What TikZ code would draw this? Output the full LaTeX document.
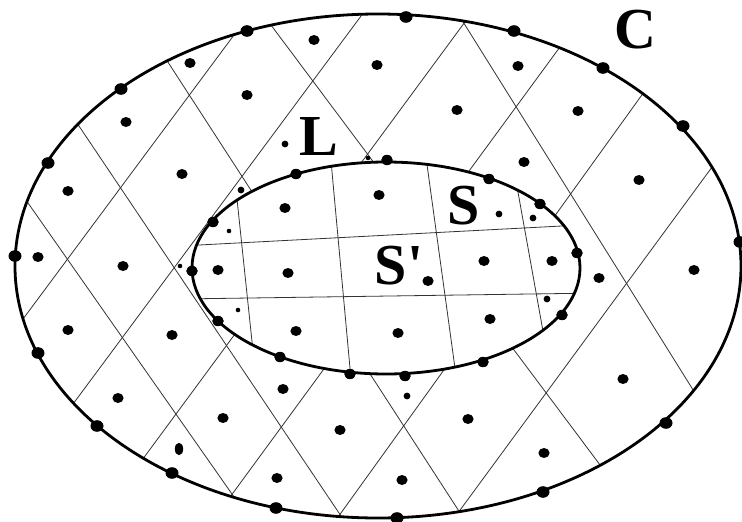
\documentclass[tikz,border=0pt]{standalone}
\usepackage{fontspec}
\setmainfont{Liberation Serif}[Ligatures=TeXOff]
\begin{document}
\begin{tikzpicture}[x=1pt, y=-1pt,
    rim/.style={line width=2.8pt},
    cell/.style={line width=0.8pt, black!80},
    every node/.style={font=\fontsize{58}{58}\selectfont\bfseries, inner sep=0pt, anchor=base}]
  \path[use as bounding box, fill=white] (0,0) rectangle (742,522);
  \coordinate (outer) at (378,266);
  \coordinate (inner) at (386,268);

  % diamond cells of L
  \begin{scope}
    \clip (outer) ellipse [x radius=363pt, y radius=252pt];
    \draw[cell] (0,163) -- (260,534);
    \draw[cell] (40,68) -- (380,574);
    \draw[cell] (140,19) -- (490,559);
    \draw[cell] (250,-3) -- (630,505);
    \draw[cell] (440,-15) -- (720,433);
    \draw[cell] (0,350) -- (260,0);
    \draw[cell] (50,435) -- (390,-23);
    \draw[cell] (120,490) -- (490,-12);
    \draw[cell] (200,538) -- (590,6);
    \draw[cell] (310,556) -- (680,42);
    \draw[cell] (430,551) -- (740,129);
  \end{scope}
  \fill[white] (inner) ellipse [x radius=194pt, y radius=106pt];

  % square cells of S
  \begin{scope}
    \clip (inner) ellipse [x radius=194pt, y radius=106pt];
    \draw[cell] (180,246) -- (600,224);
    \draw[cell] (180,299) -- (600,293);
    \draw[cell] (235,180) -- (255,370);
    \draw[cell] (330,150) -- (352,390);
    \draw[cell] (425,150) -- (458,390);
    \draw[cell] (514,170) -- (550,370);
  \end{scope}

  \draw[rim] (outer) ellipse [x radius=363pt, y radius=252pt];
  \draw[rim] (inner) ellipse [x radius=194pt, y radius=106pt];

  % points on C
  \foreach \x/\y in {247/31, 406/17, 514/31, 603/68, 683/126, 740/242, 121/89, 48/163,
      15/256, 38/353, 97/426, 172/473, 276/508, 397/518, 543/492, 666/423}
    \fill (\x,\y) ellipse [x radius=6.5pt, y radius=5.8pt];
  % points on the rim of S
  \foreach \x/\y in {296/174, 387/160, 489/179, 540/204, 577/253, 562/315, 483/362,
      405/376, 350/374, 280/357, 218/321, 192/271, 213/222}
    \fill (\x,\y) ellipse [x radius=5.8pt, y radius=5.2pt];
  % inner points
  \foreach \x/\y in {314/40, 190/63, 247/95, 126/122, 182/174, 68/191, 38/257, 377/65,
      518/66, 457/110, 578/111, 524/162, 639/180, 694/270, 599/278, 623/379, 468/419,
      544/453, 402/480, 340/430, 277/478, 223/418, 118/398, 68/330, 172/335, 123/266,
      283/389, 379/195, 285/208, 218/270, 288/273, 428/281, 484/261, 552/261, 296/331,
      398/333, 490/319}
    \fill (\x,\y) ellipse [x radius=5.6pt, y radius=5pt];
  \fill (179,449) ellipse [x radius=4.2pt, y radius=6.2pt];
  \foreach \x/\y in {285/144, 407/396, 499/214, 533/218, 547/299, 241/190}
    \fill (\x,\y) circle [radius=3.4pt];
  \foreach \x/\y in {229/231, 238/310, 180/266, 368/158}
    \fill (\x,\y) circle [radius=2.3pt];

  \node (L) at (319,155) {L};
  \node (C) at (635,48) {C};
  \node (S) at (464,224) {S};
  \node (Sp) at (399,284) {S'};
\end{tikzpicture}
\end{document}
